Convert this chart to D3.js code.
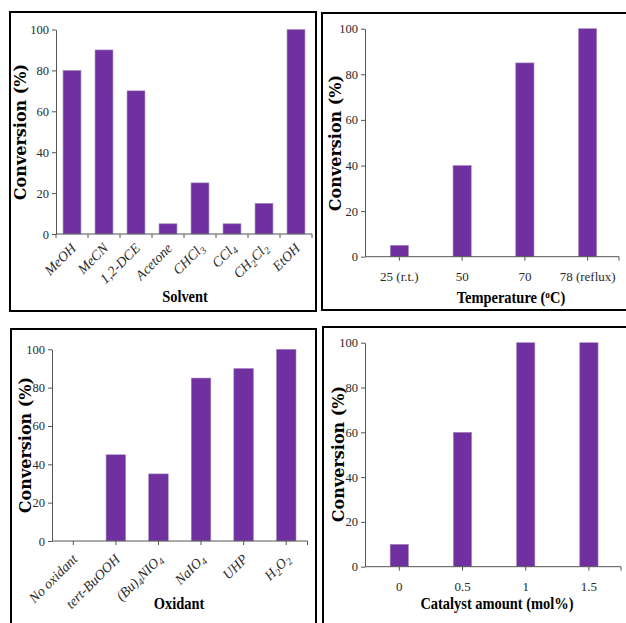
<!DOCTYPE html>
<html>
<head>
<meta charset="utf-8">
<script src="https://cdn.jsdelivr.net/npm/d3@7"></script>
<style>
  html, body { margin: 0; padding: 0; background: #fff; }
  svg { display: block; }
</style>
</head>
<body>
<script>
// ---- data ----
const solventCategories = ["MeOH", "MeCN", "1,2-DCE", "Acetone", "CHCl3", "CCl4", "CH2Cl2", "EtOH"];
const solventValues = [80, 90, 70, 5, 25, 5, 15, 100];

const temperatureCategories = ["25 (r.t.)", "50", "70", "78 (reflux)"];
const temperatureValues = [5, 40, 85, 100];

const oxidantCategories = ["No oxidant", "tert-BuOOH", "(Bu)4NIO4", "NaIO4", "UHP", "H2O2"];
const oxidantValues = [0, 45, 35, 85, 90, 100];

const catalystCategories = ["0", "0.5", "1", "1.5"];
const catalystValues = [10, 60, 100, 100];

const yTicks = [0, 20, 40, 60, 80, 100];
const yAxisTitle = "Conversion (%)";

const W = 626, H = 623;
const BAR = "#7030a0";
const AXIS = "#555";
const TXT = "#2a2a2a";
const SERIF = "'Liberation Serif', 'Times New Roman', serif";

const svg = d3.select("body").append("svg").attr("width", W).attr("height", H);

// frames
const frames = [
  {x: 10, y: 12, w: 306, h: 299},
  {x: 322, y: 13, w: 312, h: 297},
  {x: 11, y: 329, w: 305, h: 310},
  {x: 323, y: 327, w: 312, h: 310}
];
svg.selectAll("rect.frame").data(frames).join("rect")
  .attr("class", "frame")
  .attr("x", d => d.x).attr("y", d => d.y)
  .attr("width", d => d.w).attr("height", d => d.h)
  .attr("fill", "none").attr("stroke", "#000").attr("stroke-width", 2);

// write label with subscripts for digits following letters or ')'
function richLabel(sel, str, size) {
  const parts = [];
  for (let i = 0; i < str.length; i++) {
    const ch = str[i];
    const prev = i > 0 ? str[i - 1] : "";
    const isSub = /[0-9]/.test(ch) && /[A-Za-z\)]/.test(prev);
    if (parts.length && parts[parts.length - 1].sub === isSub) parts[parts.length - 1].t += ch;
    else parts.push({t: ch, sub: isSub});
  }
  parts.forEach(p => {
    const ts = sel.append("tspan").text(p.t);
    if (p.sub) ts.attr("font-size", size * 0.7).attr("baseline-shift", "-3");
  });
}

function panel(cfg) {
  const g = svg.append("g");
  const y = d3.scaleLinear().domain([0, 100]).range([cfg.y0, cfg.y100]);
  const x = d3.scaleBand().domain(cfg.cats).range(cfg.xr)
    .paddingInner(cfg.pad).paddingOuter(cfg.pad / 2);

  // y axis
  const ya = g.append("g").attr("transform", `translate(${cfg.ax},0)`)
    .call(d3.axisLeft(y).tickValues(yTicks).tickSize(4).tickSizeOuter(0).tickPadding(3));
  ya.select(".domain").attr("stroke", AXIS);
  ya.selectAll(".tick line").attr("stroke", AXIS);
  ya.selectAll(".tick text").attr("font-family", SERIF).attr("font-size", 12.5).attr("fill", TXT);

  // bars
  g.selectAll("rect.bar").data(cfg.vals).join("rect")
    .attr("class", "bar")
    .attr("x", (d, i) => x(cfg.cats[i]))
    .attr("width", x.bandwidth())
    .attr("y", d => y(d))
    .attr("height", d => y(0) - y(d))
    .attr("fill", BAR)
    .attr("stroke", "#a58fbd").attr("stroke-width", 0.6);

  // x axis line
  g.append("line").attr("x1", cfg.ax).attr("x2", cfg.xEnd)
    .attr("y1", y(0)).attr("y2", y(0)).attr("stroke", AXIS);
  let tickXs;
  if (cfg.boundaryTicks) {
    tickXs = d3.range(cfg.cats.length + 1).map(i => cfg.xr[0] + i * x.step());
  } else {
    tickXs = cfg.cats.map(c => x(c) + x.bandwidth() / 2).concat([cfg.xEnd]);
  }
  g.selectAll("line.xt").data(tickXs).join("line")
    .attr("class", "xt")
    .attr("x1", d => d).attr("x2", d => d)
    .attr("y1", y(0)).attr("y2", y(0) + 4).attr("stroke", AXIS);

  // x labels
  cfg.cats.forEach(c => {
    const cx = x(c) + x.bandwidth() / 2;
    if (cfg.rotate) {
      const t = g.append("text")
        .attr("transform", `translate(${cx + 5},${y(0) + cfg.labOff}) rotate(-45)`)
        .attr("text-anchor", "end")
        .attr("font-family", SERIF).attr("font-style", "italic")
        .attr("font-size", 14).attr("fill", TXT);
      richLabel(t, c, 14);
    } else {
      g.append("text").attr("x", cx).attr("y", y(0) + 24)
        .attr("text-anchor", "middle")
        .attr("font-family", SERIF).attr("font-size", 13).attr("fill", TXT)
        .text(c);
    }
  });

  // y title
  g.append("text")
    .attr("transform", `translate(${cfg.ytx},${cfg.yty}) rotate(-90)`)
    .attr("text-anchor", "middle")
    .attr("font-family", "'DejaVu Serif', serif").attr("font-weight", "bold")
    .attr("font-size", 16).attr("fill", "#000")
    .text(yAxisTitle);

  // x title
  const xt = g.append("text")
    .attr("transform", `translate(${cfg.xtx},${cfg.xty}) scale(0.85,1)`)
    .attr("text-anchor", "middle")
    .attr("font-family", SERIF).attr("font-weight", "bold")
    .attr("font-size", 17).attr("fill", "#000");
  if (cfg.xTitleSup) {
    xt.append("tspan").text(cfg.xTitle[0]);
    xt.append("tspan").text(cfg.xTitleSup).attr("font-size", 11).attr("baseline-shift", "super");
    xt.append("tspan").text(cfg.xTitle[1]);
  } else {
    xt.text(cfg.xTitle);
  }
}

panel({cats: solventCategories, vals: solventValues, ax: 56, xr: [56, 312], xEnd: 312,
  y0: 234, y100: 29.5, pad: 0.44, boundaryTicks: true, rotate: true, labOff: 15,
  ytx: 26, yty: 132, xtx: 185, xty: 302, xTitle: "Solvent"});

panel({cats: temperatureCategories, vals: temperatureValues, ax: 365, xr: [368, 619], xEnd: 619,
  y0: 256.7, y100: 28.7, pad: 0.71, boundaryTicks: false, rotate: false,
  ytx: 341, yty: 143, xtx: 511, xty: 303, xTitle: ["Temperature (", "C)"], xTitleSup: "o"});

panel({cats: oxidantCategories, vals: oxidantValues, ax: 52, xr: [52, 307.5], xEnd: 307.5,
  y0: 541, y100: 349.3, pad: 0.54, boundaryTicks: false, rotate: true, labOff: 19,
  ytx: 31, yty: 445, xtx: 179, xty: 609, xTitle: "Oxidant"});

panel({cats: catalystCategories, vals: catalystValues, ax: 365, xr: [367.7, 620.5], xEnd: 621,
  y0: 566.7, y100: 342.7, pad: 0.71, boundaryTicks: false, rotate: false,
  ytx: 344, yty: 454, xtx: 497, xty: 609, xTitle: "Catalyst amount (mol%)"});
</script>
</body>
</html>
